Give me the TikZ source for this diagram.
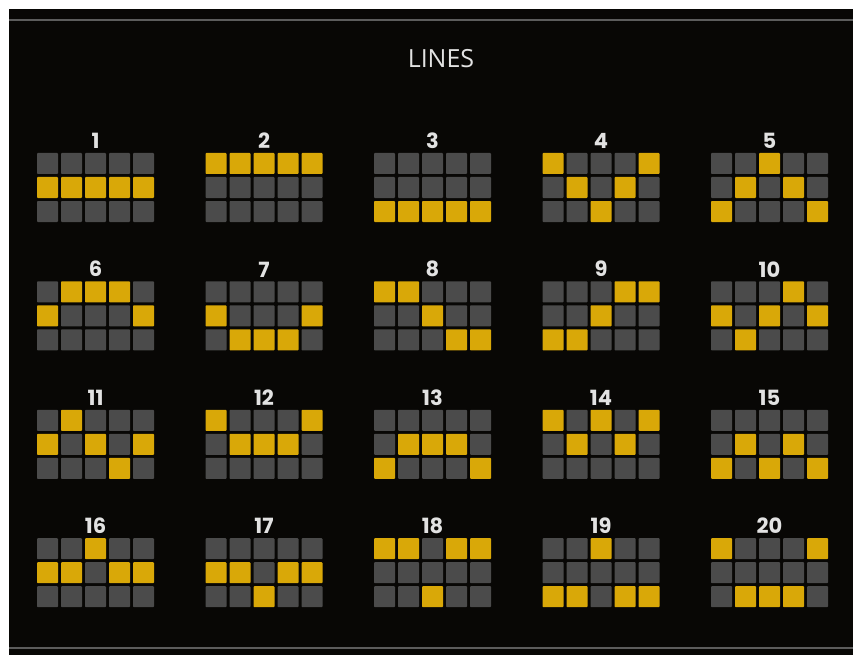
\documentclass[tikz,border=0pt]{standalone}
\usepackage{fontspec}
\setmainfont{Open Sans}
\newfontfamily\digitfont{Poppins}
\usepackage{tikz}
\usetikzlibrary{positioning}
\definecolor{inkcolor}{HTML}{080705}
\definecolor{railcolor}{HTML}{5C5C5C}
\definecolor{slatecolor}{HTML}{4B4B4B}
\definecolor{goldcolor}{HTML}{D9A808}
\definecolor{chalkcolor}{HTML}{E2E2E2}

\begin{document}
\begin{tikzpicture}[x=1pt, y=-1pt,
    cell/.style={rectangle, fill=slatecolor, minimum size=21pt, inner sep=0pt, rounded corners=0.8pt},
    lit/.style={cell, fill=goldcolor},
    numlabel/.style={font=\digitfont\fontsize{21}{21}\selectfont\bfseries, text=chalkcolor, inner sep=0pt}]
  \useasboundingbox (0,0) rectangle (853,655);
  \fill[white] (0,0) rectangle (853,655);
  \fill[inkcolor] (9,9) rectangle (853,655);
  \draw[railcolor, line width=1.6pt] (9,20) -- (853,20);
  \draw[railcolor, line width=1.2pt] (9,648) -- (853,648);
  \node[font=\fontsize{25}{25}\selectfont, text=chalkcolor] (title) at (441,59) {LINES};
  % one 5x3 grid per line, values give the lit row of each reel
  \foreach \n/\pa/\pb/\pc/\pd/\pe in {
    1/1/1/1/1/1, 2/0/0/0/0/0, 3/2/2/2/2/2, 4/0/1/2/1/0, 5/2/1/0/1/2,
    6/1/0/0/0/1, 7/1/2/2/2/1, 8/0/0/1/2/2, 9/2/2/1/0/0, 10/1/2/1/0/1,
    11/1/0/1/2/1, 12/0/1/1/1/0, 13/2/1/1/1/2, 14/0/1/0/1/0, 15/2/1/2/1/2,
    16/1/1/0/1/1, 17/1/1/2/1/1, 18/0/0/2/0/0, 19/2/2/0/2/2, 20/0/2/2/2/0} {
    \pgfmathsetmacro{\gx}{47.5 + mod(\n-1,5)*168.5}
    \pgfmathsetmacro{\gy}{163.5 + int((\n-1)/5)*128.4}
    \foreach \c/\lr in {0/\pa, 1/\pb, 2/\pc, 3/\pd, 4/\pe} {
      \foreach \r in {0,1,2} {
        \ifnum\r=\lr
          \node[lit] (cell-\n-\c-\r) at (\gx+\c*24, \gy+\r*24) {};
        \else
          \node[cell] (cell-\n-\c-\r) at (\gx+\c*24, \gy+\r*24) {};
        \fi
      }
    }
    \node[numlabel, above=4pt of cell-\n-2-0] (num-\n) {\n};
  }
\end{tikzpicture}
\end{document}
